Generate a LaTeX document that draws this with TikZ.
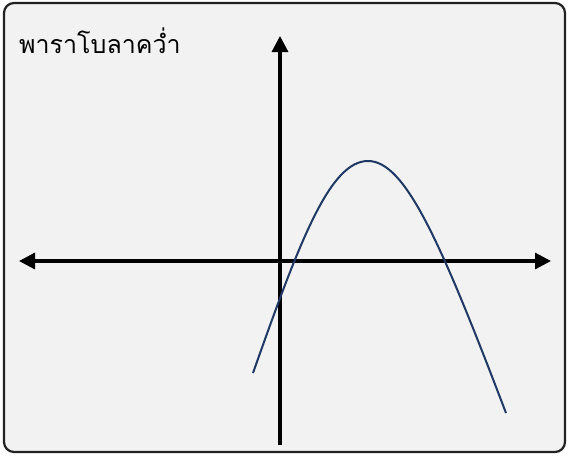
\documentclass[tikz,border=0pt]{standalone}
\usepackage{fontspec}
\newfontfamily\thaifont[Script=Thai]{Loma}
\usetikzlibrary{arrows.meta}
\definecolor{panel}{HTML}{F2F2F2}
\definecolor{rim}{HTML}{222222}
\definecolor{curve}{HTML}{1F3864}
\tikzset{
  axis/.style={line width=3.2pt,-{Triangle[length=16pt,width=16pt]}},
  daxis/.style={line width=3.2pt,{Triangle[length=16pt,width=16pt]}-{Triangle[length=16pt,width=16pt]}},
  para/.style={draw=curve,line width=2pt},
}
\begin{document}
\begin{tikzpicture}[x=1pt,y=-1pt]
\useasboundingbox (0,0) rectangle (568,456);
\draw[fill=panel,draw=rim,line width=2.2pt,rounded corners=10pt] (4,3) rectangle (565,452);
\node[anchor=base west,inner sep=0pt,font=\thaifont\fontsize{25}{28}\selectfont] (title) at (19,53) {พาราโบลาคว่ำ};
% axes
\coordinate (xl) at (19,261); \coordinate (xr) at (551,261);
\coordinate (yt) at (280,36); \coordinate (yb) at (280,445);
\draw[daxis] (xl) -- (xr);
\draw[axis] (yb) -- (yt);
% parabola
\coordinate (pl) at (253,373); \coordinate (pv) at (368,161); \coordinate (pr) at (506,413);
\draw[para] (pl) .. controls (300,240) and (330,161) .. (pv)
            .. controls (405,161) and (440,240) .. (pr);
\end{tikzpicture}
\end{document}
